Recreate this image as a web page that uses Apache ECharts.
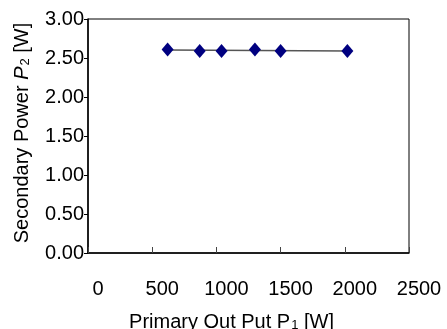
<!DOCTYPE html>
<html>
<head>
<meta charset="utf-8">
<script src="https://cdn.jsdelivr.net/npm/echarts@6/dist/echarts.min.js"></script>
<style>
  html, body {margin: 0; padding: 0; background: #fff;}
  #chart {width: 447px; height: 329px;}
</style>
</head>
<body>
<div id="chart"></div>
<script>
// primary output P1 [W] and secondary power P2 [W]
const primaryOut = [620, 870, 1040, 1300, 1500, 2020];
const secondaryPower = [2.61, 2.59, 2.59, 2.61, 2.59, 2.59];
const xTicks = [0, 2500, 500];   // min, max, step
const yTicks = [0, 3, 0.5];

// linear trend line through the points
function linearFit(xs, ys) {
  const n = xs.length;
  let sx = 0, sy = 0, sxx = 0, sxy = 0;
  for (let i = 0; i < n; i++) {
    sx += xs[i]; sy += ys[i];
    sxx += xs[i] * xs[i]; sxy += xs[i] * ys[i];
  }
  const k = (n * sxy - sx * sy) / (n * sxx - sx * sx);
  const b = (sy - k * sx) / n;
  const x0 = Math.min(...xs), x1 = Math.max(...xs);
  return [[x0, k * x0 + b], [x1, k * x1 + b]];
}

const font = '"Liberation Sans", Arial, sans-serif';
const fs = 20;
const chart = echarts.init(document.getElementById('chart'));
chart.setOption({
  animation: false,
  textStyle: {fontFamily: font},
  grid: {
    left: 88, right: 38, top: 19, bottom: 76,
    outerBoundsMode: 'none', containLabel: false,
    show: true, borderColor: '#000', borderWidth: 1
  },
  xAxis: {
    type: 'value',
    min: xTicks[0], max: xTicks[1], interval: xTicks[2],
    splitLine: {show: false},
    axisLine: {lineStyle: {color: '#000', width: 1.5}},
    axisTick: {inside: true, length: 6, lineStyle: {color: '#444'}},
    axisLabel: {color: '#000', fontSize: fs, margin: 26, padding: [0, 0, 0, 20], formatter: v => String(v)},
    name: '{n|Primary Out Put P}{s|1}{n| [W]}',
    nameLocation: 'middle',
    nameGap: 59,
    nameTextStyle: {
      padding: [0, 34, 0, 0],
      rich: {
        n: {fontSize: fs, color: '#000', fontFamily: font},
        s: {fontSize: 13, color: '#000', fontFamily: font, verticalAlign: 'bottom', padding: [7, 0, 0, 1]}
      }
    }
  },
  yAxis: {
    type: 'value',
    min: yTicks[0], max: yTicks[1], interval: yTicks[2],
    splitLine: {show: false},
    axisLine: {lineStyle: {color: '#000', width: 1.5}},
    axisTick: {length: 4, lineStyle: {color: '#000'}},
    axisLabel: {color: '#000', fontSize: fs, margin: 4, formatter: v => v.toFixed(2)},
    name: '{n|Secondary Power }{i|P}{s|2}{n| [W]}',
    nameLocation: 'middle',
    nameGap: 56,
    nameTextStyle: {
      padding: [0, 0, 0, 6],
      rich: {
        n: {fontSize: fs, color: '#000', fontFamily: font},
        i: {fontSize: fs, color: '#000', fontFamily: font, fontStyle: 'italic'},
        s: {fontSize: 13, color: '#000', fontFamily: font, verticalAlign: 'bottom', padding: [7, 0, 0, 1]}
      }
    }
  },
  series: [{
    type: 'line',
    data: linearFit(primaryOut, secondaryPower),
    symbol: 'none',
    lineStyle: {color: '#555', width: 1.5},
    z: 1
  }, {
    type: 'scatter',
    data: primaryOut.map((x, i) => [x, secondaryPower[i]]),
    symbol: 'diamond',
    symbolSize: [12, 14],
    itemStyle: {color: '#000080', opacity: 1},
    z: 2
  }]
});
</script>
</body>
</html>
